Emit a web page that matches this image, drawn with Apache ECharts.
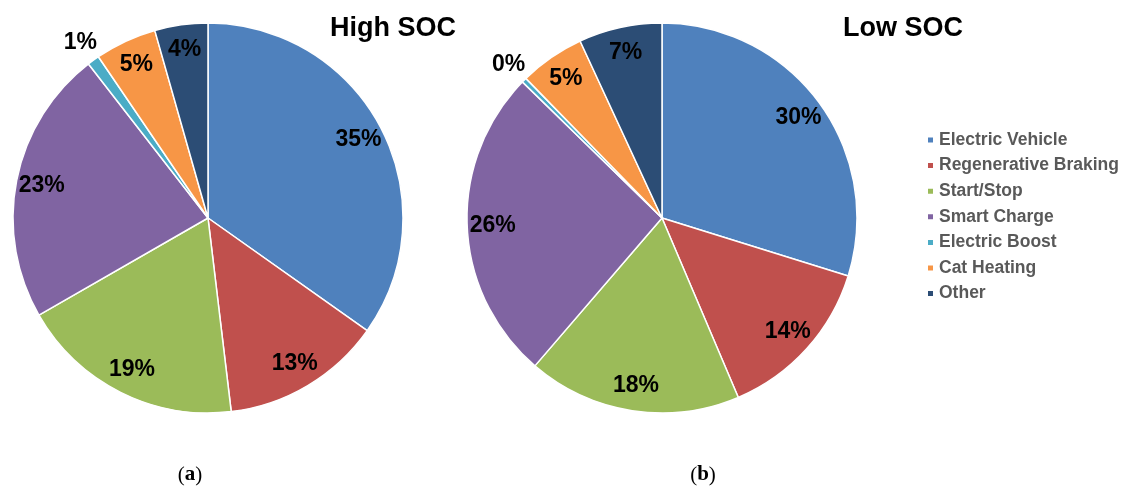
<!DOCTYPE html>
<html>
<head>
<meta charset="utf-8">
<script src="https://cdn.jsdelivr.net/npm/echarts@6/dist/echarts.min.js"></script>
<style>
html,body{margin:0;padding:0;background:#fff;}
#chart{width:1126px;height:488px;}
</style>
</head>
<body>
<div id="chart"></div>
<script>
const categories = ['Electric Vehicle', 'Regenerative Braking', 'Start/Stop', 'Smart Charge', 'Electric Boost', 'Cat Heating', 'Other'];
const highSOC = [34.8, 13.3, 18.6, 22.8, 1.0, 5.1, 4.4];
const lowSOC = [29.8, 13.8, 17.7, 26.0, 0.4, 5.4, 6.9];
const chartTitles = ['High SOC', 'Low SOC'];
const captions = ['a', 'b'];
const outsideLabelCategory = 'Electric Boost';

const colors = ['#4F81BD', '#C0504D', '#9BBB59', '#8064A2', '#4BACC6', '#F79646', '#2C4D75'];
const R = 195;
const centers = [[208, 218], [662, 218]];

function mkData(vals) {
  return categories.map((c, i) => ({ name: c, value: vals[i] }));
}

const labelFont = { fontFamily: 'Liberation Sans, Arial, sans-serif', fontWeight: 'bold', fontSize: 23, color: '#000' };

function pieSeries(vals, center) {
  const data = mkData(vals);
  return [
    {
      type: 'pie', center: center, radius: R, startAngle: 90, clockwise: true,
      percentPrecision: 0, avoidLabelOverlap: false,
      data: data,
      itemStyle: { borderColor: '#fff', borderWidth: 1.5 },
      label: { show: false }, labelLine: { show: false },
      emphasis: { disabled: true }
    },
    {
      type: 'pie', center: center, radius: [138, R], startAngle: 90, clockwise: true,
      percentPrecision: 0, avoidLabelOverlap: false, silent: true,
      data: data.map(d => ({
        name: d.name, value: d.value,
        label: { show: d.name !== outsideLabelCategory }
      })),
      itemStyle: { color: 'rgba(0,0,0,0)', borderWidth: 0 },
      label: Object.assign({ show: true, position: 'inside', formatter: '{d}%' }, labelFont),
      labelLine: { show: false },
      emphasis: { disabled: true }
    },
    {
      type: 'pie', center: center, radius: [R, 233], startAngle: 90, clockwise: true,
      percentPrecision: 0, avoidLabelOverlap: false, silent: true,
      data: data.map(d => ({
        name: d.name, value: d.value,
        label: { show: d.name === outsideLabelCategory }
      })),
      itemStyle: { color: 'rgba(0,0,0,0)', borderWidth: 0 },
      label: Object.assign({ show: true, position: 'inside', formatter: '{d}%' }, labelFont),
      labelLine: { show: false },
      emphasis: { disabled: true }
    }
  ];
}

const chart = echarts.init(document.getElementById('chart'), null, { renderer: 'canvas' });
chart.setOption({
  animation: false,
  color: colors,
  legend: {
    orient: 'vertical', left: 926, top: 131, padding: 0,
    data: categories,
    icon: 'rect', itemWidth: 7, itemHeight: 7, itemGap: 7.6,
    textStyle: { fontFamily: 'Liberation Sans, Arial, sans-serif', fontWeight: 'bold', fontSize: 17.5, lineHeight: 18, color: '#595959' },
    selectedMode: false
  },
  graphic: [
    { type: 'text', x: 330, y: 29, style: { text: chartTitles[0], font: 'bold 27px "Liberation Sans", Arial, sans-serif', fill: '#000', align: 'left', verticalAlign: 'middle' } },
    { type: 'text', x: 843, y: 29, style: { text: chartTitles[1], font: 'bold 27px "Liberation Sans", Arial, sans-serif', fill: '#000', align: 'left', verticalAlign: 'middle' } },
    { type: 'text', x: 190, y: 475, style: { text: '{p|(}{b|' + captions[0] + '}{p|)}', align: 'center', verticalAlign: 'middle',
      rich: { p: { fontFamily: 'Liberation Serif, serif', fontSize: 21, color: '#000' }, b: { fontFamily: 'Liberation Serif, serif', fontSize: 21, fontWeight: 'bold', color: '#000' } } } },
    { type: 'text', x: 703, y: 475, style: { text: '{p|(}{b|' + captions[1] + '}{p|)}', align: 'center', verticalAlign: 'middle',
      rich: { p: { fontFamily: 'Liberation Serif, serif', fontSize: 21, color: '#000' }, b: { fontFamily: 'Liberation Serif, serif', fontSize: 21, fontWeight: 'bold', color: '#000' } } } }
  ],
  series: [].concat(pieSeries(highSOC, centers[0]), pieSeries(lowSOC, centers[1]))
});
</script>
</body>
</html>
